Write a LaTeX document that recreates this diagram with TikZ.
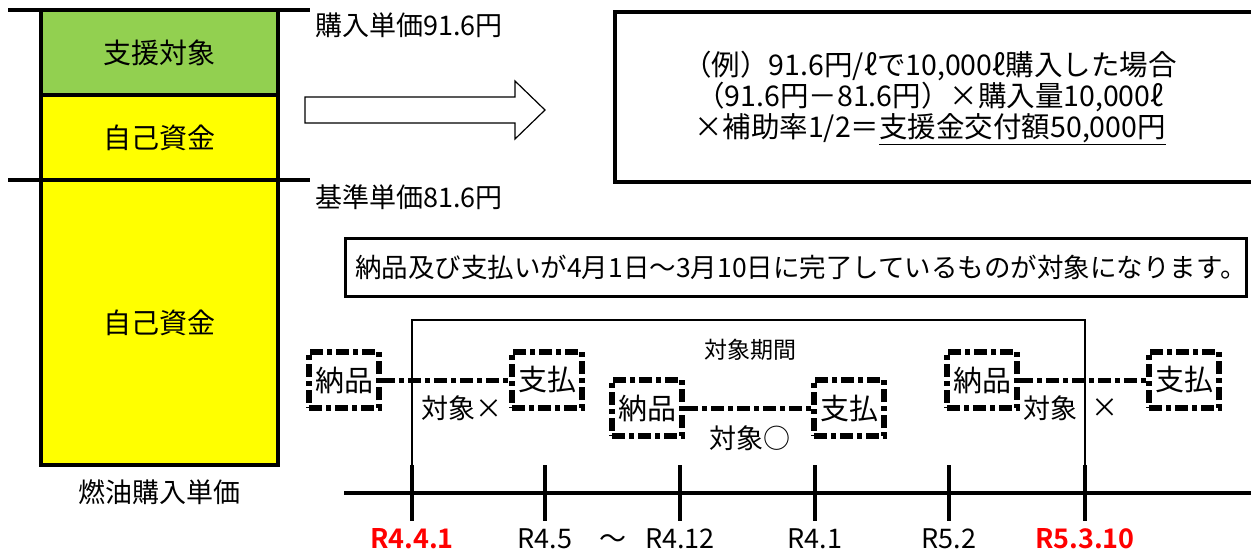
\documentclass[tikz,border=0pt]{standalone}
\usepackage{fontspec}
\setmainfont{Noto Sans CJK JP}[BoldFont={Noto Sans CJK JP Bold}]
\usetikzlibrary{positioning}
\definecolor{aidgreen}{RGB}{146,208,80}
\definecolor{ownyellow}{RGB}{255,255,0}
\begin{document}
\begin{tikzpicture}[
        x=1pt, y=-1pt,
        font=\fontsize{27}{31}\selectfont,
        band/.style={draw, line width=3.5pt, minimum width=237pt, inner sep=0pt, font=\fontsize{28}{32}\selectfont},
        deliverybox/.style={draw, line width=6pt, dash pattern=on 13pt off 4pt on 5pt off 4pt,
          minimum width=70pt, minimum height=56pt, inner sep=1pt, fill=white, font=\fontsize{29}{32}\selectfont},
        deliveryline/.style={line width=5pt, dash pattern=on 13pt off 4pt on 5pt off 4pt},
        tick/.style={line width=3.5pt},
        datelabel/.style={anchor=base, font=\fontsize{27}{30}\selectfont},
        keydate/.style={datelabel, text=red, font=\fontsize{27}{30}\selectfont\bfseries}
      ]
      \useasboundingbox (0,0) rectangle (1251,550);
      \node[band, fill=aidgreen, minimum height=85pt] (aid) at (159.5,52.5) {支援対象};
      \node[band, fill=ownyellow, minimum height=85pt] (own) at (159.5,137.5) {自己資金};
      \node[band, fill=ownyellow, minimum height=285pt] (base) at (159.5,322.5) {自己資金};
      \node (fuel) at (159.5,492) {燃油購入単価};
      \draw[line width=3.5pt] (8,10) -- (310,10);
      \draw[line width=3.5pt] (8,180) -- (310,180);
      \node[anchor=west, inner sep=0pt] (buy) at (315,25) {購入単価91.6円};
      \node[anchor=west, inner sep=0pt] (std) at (315,197) {基準単価81.6円};
      \coordinate (tail) at (305,110);
      \coordinate (tip) at (545,110);
      \draw[line width=1.2pt, fill=white] (tail) ++(0,-13) -- ++(210,0) -- ++(0,-16) -- (tip)
        -- ++(-30,29) -- ++(0,-16) -- ++(-210,0) -- cycle;
      \node[draw, line width=3.5pt, minimum width=660pt, minimum height=170pt, anchor=north west]
        (examplebox) at (613,10) {};
      \node[align=center, font=\fontsize{28.5}{31}\selectfont] (example) at (930,98)
        {（例）91.6円/ℓで10,000ℓ購入した場合\\
         （91.6円－81.6円）×購入量10,000ℓ\\
         ×補助率1/2＝\underline{支援金交付額50,000円}};
      \node[draw, line width=3pt, minimum width=901pt, minimum height=58pt, anchor=north west]
        (noticebox) at (344,237) {};
      \node[anchor=west, inner sep=0pt, font=\fontsize{26.5}{30}\selectfont] (notice) at (355,267)
        {納品及び支払いが4月1日～3月10日に完了しているものが対象になります。};
      \draw[line width=1.3pt] (412,465) -- (412,320) -- (1085,320) -- (1085,465);
      \node[font=\fontsize{23}{26}\selectfont] (period) at (750,350) {対象期間};
      \draw[tick] (344,493) -- (1251,493);
      \foreach \x/\name in {412/t1, 545/t2, 680/t3, 815/t4, 949/t5, 1085/t6} {
        \draw[tick] (\x,465) -- (\x,521);
        \coordinate (\name) at (\x,548);
      }
      \node[keydate] (d1) at (t1) {R4.4.1};
      \node[datelabel] (d2) at (t2) {R4.5};
      \node[datelabel] (wave) at (613,548) {～};
      \node[datelabel] (d3) at (t3) {R4.12};
      \node[datelabel] (d4) at (t4) {R4.1};
      \node[datelabel] (d5) at (t5) {R5.2};
      \node[keydate] (d6) at (t6) {R5.3.10};
      \node[deliverybox] (deliverA) at (344,380) {納品};
      \node[deliverybox] (payA) at (547,380) {支払};
      \draw[deliveryline] (deliverA) -- (payA);
      \node (resultA) at (462,408) {対象×};
      \node[deliverybox] (deliverB) at (647,408) {納品};
      \node[deliverybox] (payB) at (849,408) {支払};
      \draw[deliveryline] (deliverB) -- (payB);
      \node (resultB) at (750,438) {対象○};
      \node[deliverybox] (deliverC) at (982,380) {納品};
      \node[deliverybox] (payC) at (1184,380) {支払};
      \draw[deliveryline] (deliverC) -- (payC);
      \node (resultC) at (1050,408) {対象};
      \node (crossC) at (1105,408) {×};
      \end{tikzpicture}
\end{document}
